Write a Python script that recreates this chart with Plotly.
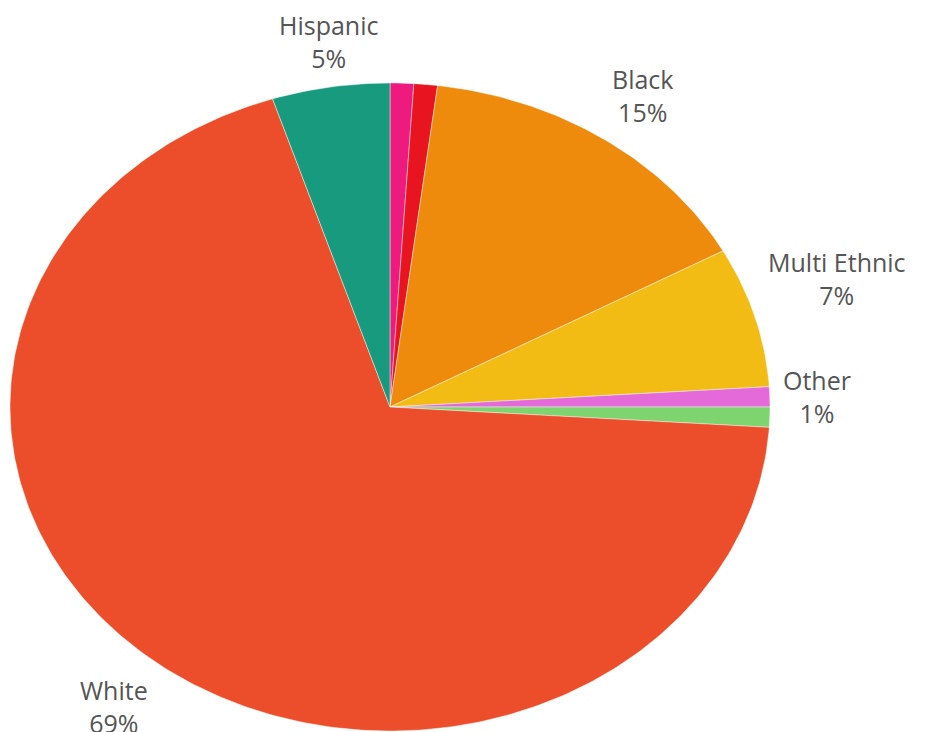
import numpy as np
import plotly.graph_objects as go

# Data (clockwise from 12 o'clock)
labels = ["Pacific Islander", "Asian", "Black", "Multi Ethnic", "Other", "Native American", "White", "Hispanic"]
values = [1, 1, 15, 7, 1, 1, 69, 5]
show_label = [False, False, True, True, True, False, True, True]
colors = ["#EE1A7E", "#E8141F", "#EE8A0C", "#F2BC15", "#E46AD9", "#7ED46F", "#EC4E2B", "#189A7F"]

W, H = 935, 732
cx_px, cy_px = 382, 399
rx_px, ry_px = 380, 324

fig = go.Figure()
total = sum(values)
cum = 0.0
for lab, val, col, show in zip(labels, values, colors, show_label):
    a0 = cum / total * 2 * np.pi
    a1 = (cum + val) / total * 2 * np.pi
    cum += val
    n = max(4, int(400 * val / total))
    t = np.linspace(a0, a1, n)
    xs = np.concatenate([[0], np.sin(t), [0]])
    ys = np.concatenate([[0], np.cos(t), [0]])
    fig.add_trace(go.Scatter(
        x=xs, y=ys, mode="lines", fill="toself", fillcolor=col,
        line=dict(color="rgba(255,255,255,0.55)", width=0.8),
        name=lab, hoverinfo="text", text=f"{lab}: {val}%", showlegend=False,
    ))
    if show:
        am = (a0 + a1) / 2
        sx, sy = np.sin(am), np.cos(am)
        r = 1.03
        xa = "left" if sx > 0.3 else ("right" if sx < -0.3 else "center")
        ya = "bottom" if sy > 0.2 else ("top" if sy < -0.3 else "middle")
        fig.add_annotation(
            x=r * sx, y=r * sy, xref="x", yref="y",
            text=f"{lab}<br>{val}%", showarrow=False,
            xanchor=xa, yanchor=ya, align="center",
            font=dict(family="Open Sans", size=25, color="#555555"),
        )

fig.update_layout(
    width=W, height=H,
    margin=dict(l=0, r=0, t=0, b=0),
    paper_bgcolor="white", plot_bgcolor="white",
    xaxis=dict(range=[-cx_px / rx_px, (W - cx_px) / rx_px], visible=False, fixedrange=True),
    yaxis=dict(range=[-(H - cy_px) / ry_px, cy_px / ry_px], visible=False, fixedrange=True),
)

fig.write_html("out.html")
